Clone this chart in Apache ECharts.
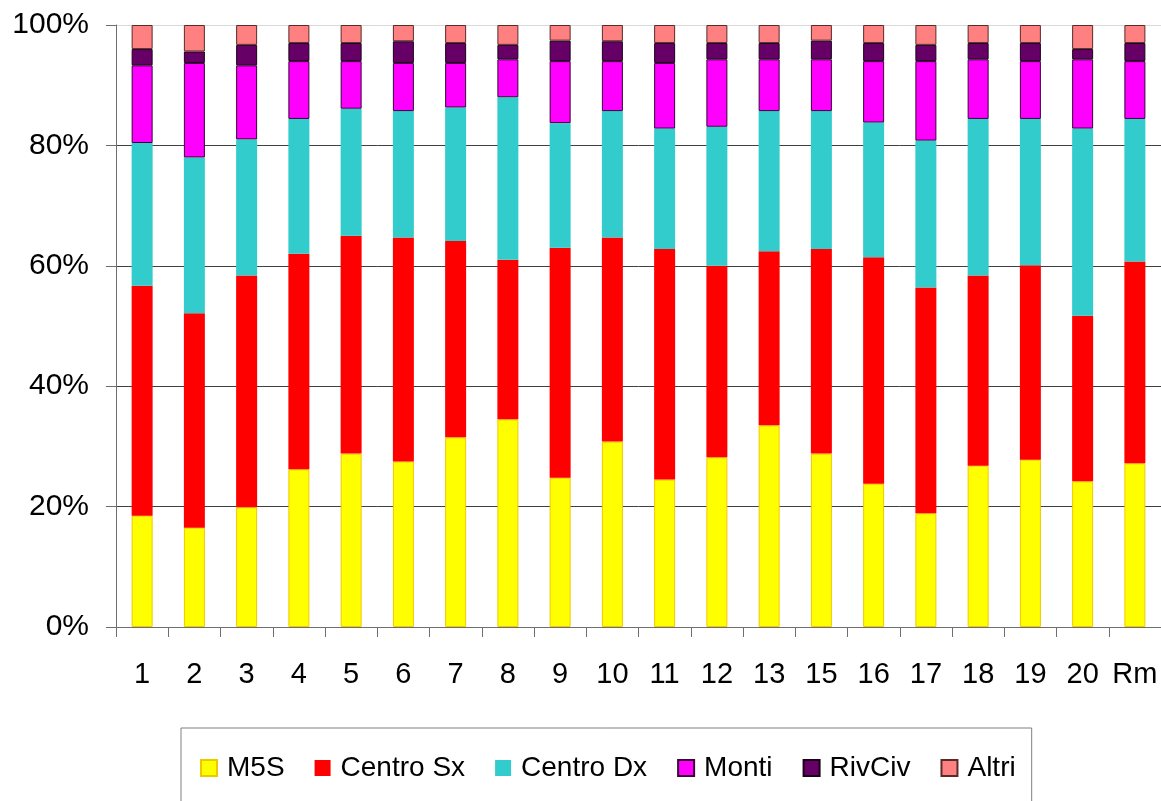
<!DOCTYPE html>
<html>
<head>
<meta charset="utf-8">
<title>Voto per municipio</title>
<script src="https://cdn.jsdelivr.net/npm/echarts@6/dist/echarts.min.js"></script>
<style>
  html, body { margin: 0; padding: 0; background: #fff; }
  #main { width: 1161px; height: 801px; }
</style>
</head>
<body>
<div id="main"></div>
<script>
// municipi
const municipi = ['1', '2', '3', '4', '5', '6', '7', '8', '9', '10', '11', '12', '13', '15', '16', '17', '18', '19', '20', 'Rm']

// percentuali (ogni colonna somma a 100)
const m5s      = [18.5, 16.5, 19.9, 26.2, 28.8, 27.5, 31.5, 34.5, 24.8, 30.8, 24.5, 28.2, 33.5, 28.8, 23.8, 18.9, 26.8, 27.8, 24.2, 27.2]
const centroSx = [38.2, 35.6, 38.5, 35.8, 36.2, 37.2, 32.6, 26.5, 38.2, 33.9, 38.3, 31.8, 28.9, 34.0, 37.6, 37.5, 31.6, 32.3, 27.5, 33.5]
const centroDx = [23.7, 25.9, 22.6, 22.4, 21.1, 21.0, 22.2, 27.0, 20.7, 21.0, 20.0, 23.1, 23.3, 22.9, 22.4, 24.4, 26.0, 24.3, 31.1, 23.7]
const monti    = [12.9, 15.7, 12.3, 9.6, 7.9, 8.0, 7.4, 6.3, 10.3, 8.3, 10.9, 11.2, 8.6, 8.6, 10.2, 13.2, 9.9, 9.6, 11.5, 9.6]
const rivCiv   = [2.7, 1.9, 3.4, 3.0, 3.0, 3.6, 3.3, 2.4, 3.4, 3.3, 3.3, 2.7, 2.7, 3.1, 3.0, 2.7, 2.7, 3.0, 1.7, 3.0]
const altri    = [4.0, 4.4, 3.3, 3.0, 3.0, 2.7, 3.0, 3.3, 2.6, 2.7, 3.0, 3.0, 3.0, 2.6, 3.0, 3.3, 3.0, 3.0, 4.0, 3.0]

const yTicks = [0, 20, 40, 60, 80, 100]

const chart = echarts.init(document.getElementById('main'))

const font = 'Liberation Sans, Arial, sans-serif'

// una serie impilata
function serie(name, data, color, border, bw) {
  return {
    name: name,
    type: 'bar',
    stack: 'tot',
    barWidth: 21,
    data: data,
    itemStyle: {
      color: color,
      borderColor: border,
      borderWidth: bw
    }
  }
}

chart.setOption({
  animation: false,
  textStyle: { fontFamily: font },
  grid: {
    left: 116,
    top: 25,
    width: 1047,
    height: 602
  },
  legend: {
    left: 181,
    top: 728,
    padding: [26, 16, 26, 19],
    borderColor: '#808080',
    borderWidth: 1,
    itemGap: 30,
    itemWidth: 16,
    itemHeight: 16,
    icon: 'rect',
    textStyle: {
      fontSize: 28,
      color: '#000',
      fontFamily: font,
      padding: [0, 0, 0, 5]
    },
    data: ['M5S', 'Centro Sx', 'Centro Dx', 'Monti', 'RivCiv', 'Altri']
  },
  xAxis: {
    type: 'category',
    data: municipi,
    axisLine: { lineStyle: { color: '#6e6e6e', width: 1 } },
    axisTick: { show: true, interval: 0, length: 10, inside: false, lineStyle: { color: '#6e6e6e' } },
    axisLabel: {
      interval: 0,
      margin: 33,
      fontSize: 29,
      color: '#000',
      fontFamily: font
    }
  },
  yAxis: {
    type: 'value',
    min: yTicks[0],
    max: yTicks[yTicks.length - 1],
    interval: 20,
    axisLine: { show: true, lineStyle: { color: '#6e6e6e', width: 1 } },
    axisTick: { show: true, length: 10, lineStyle: { color: '#6e6e6e' } },
    axisLabel: {
      margin: 27,
      fontSize: 30,
      color: '#000',
      fontFamily: font,
      formatter: '{value}%'
    },
    splitLine: {
      show: true,
      lineStyle: {
        // l'ultima (100%) e' il bordo chiaro dell'area
        color: ['#404040', '#404040', '#404040', '#404040', '#404040', '#d9d9d9'],
        width: 1
      }
    }
  },
  series: [
    serie('M5S', m5s, '#ffff00', '#f0c800', 1),
    serie('Centro Sx', centroSx, '#ff0000', '#ff0000', 0),
    serie('Centro Dx', centroDx, '#33cccc', '#33cccc', 0),
    serie('Monti', monti, '#ff00ff', '#3a003a', 1),
    serie('RivCiv', rivCiv, '#660066', '#1a001a', 1),
    serie('Altri', altri, '#ff8080', '#5a2a2a', 1)
  ]
})
</script>
</body>
</html>
